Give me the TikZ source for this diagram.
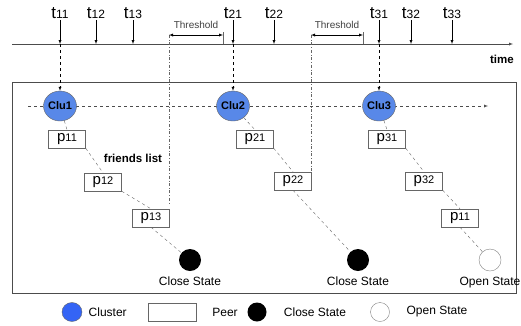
\documentclass[tikz,border=0pt]{standalone}
\usepackage{fontspec}
\setmainfont{Liberation Sans}
\usetikzlibrary{arrows,positioning,shapes}

\definecolor{clublue}{RGB}{88,136,232}
\definecolor{legblue}{RGB}{52,100,245}
\newcommand{\tlab}[1]{{\fontsize{17}{17}\selectfont t}{\fontsize{12}{12}\selectfont #1}}
\newcommand{\plab}[1]{{\fontsize{15}{15}\selectfont p}{\fontsize{11}{11}\selectfont #1}}

\begin{document}
\begin{tikzpicture}[x=1pt,y=-1pt,>=latex,
	cluster/.style={ellipse,draw=black!60,fill=clublue,minimum width=33pt,minimum height=30pt,inner xsep=-6pt,inner ysep=0pt,font=\bfseries\fontsize{11}{11}\selectfont},
	peer/.style={rectangle,draw=black!60,fill=white,minimum width=37pt,minimum height=18pt,inner sep=0pt},
	closed/.style={circle,fill=black,minimum size=22pt,inner sep=0pt},
	opened/.style={circle,draw=black!50,fill=white,minimum size=22pt,inner sep=0pt},
	link/.style={dashed,black!60},
	limit/.style={dash dot,black!60},
	lbl/.style={font=\fontsize{12}{12}\selectfont},
	blbl/.style={font=\bfseries\fontsize{11.5}{11.5}\selectfont}]
	\useasboundingbox (0,0) rectangle (521,325);
	% time axis
	\coordinate (a0) at (12,44);
	\coordinate (a1) at (513,44);
	\draw[black!70,->] (a0) -- (a1);
	\node[blbl,anchor=north east,inner sep=0pt] (time) at (514,55) {time};
	\foreach \n/\x in {11/60,12/96,13/133,21/233,22/274,31/379,32/411,33/452} {
		\node[inner sep=1pt] (t\n) at (\x,13) {\tlab{\n}};
		\coordinate (T\n) at (\x,44);
		\draw[->] (t\n) -- (T\n);
	}
	% thresholds
	\foreach \i/\xa/\xb/\yb in {1/169/223/203,2/311/363/172} {
		\coordinate (thl\i) at (\xa,35);
		\coordinate (thb\i) at (\xa,\yb);
		\coordinate (thr\i) at (\xb,32);
		\coordinate (tha\i) at (\xb,44);
		\draw[limit] (thl\i) -- (thb\i);
		\draw[black!60] (thr\i) -- (tha\i);
		\draw[<->] (thl\i) -- (thl\i -| thr\i);
		\node[font=\fontsize{10}{10}\selectfont,text=black!75] (th\i) at ({(\xa+\xb)/2},25) {Threshold};
	}
	% frame
	\draw[black!70] (12,82) rectangle (516,293);
	\coordinate (h0) at (28,106);
	\coordinate (h1) at (488,106);
	\draw[->,dashed,black!70] (h0) -- (h1);
	% clusters
	\node[cluster] (clu1) at (60,106) {Clu1};
	\node[cluster] (clu2) at (233,106) {Clu2};
	\node[cluster] (clu3) at (379,106) {Clu3};
	\draw[->,dashed] (T11) -- (clu1);
	\draw[->,dashed] (T21) -- (clu2);
	\draw[->,dashed] (T31) -- (clu3);
	% peers
	\node[peer] (p11) at (67,139) {\plab{11}};
	\node[peer] (p12) at (103,182) {\plab{12}};
	\node[peer] (p13) at (151,218) {\plab{13}};
	\node[closed] (c1) at (190,260) {};
	\node[peer] (p21) at (255,139) {\plab{21}};
	\node[peer] (p22) at (293,181) {\plab{22}};
	\node[closed] (c2) at (358,260) {};
	\node[peer] (p31) at (387,139) {\plab{31}};
	\node[peer] (p32) at (424,181) {\plab{32}};
	\node[peer] (p33) at (460,218) {\plab{11}};
	\node[opened] (o3) at (490,260) {};
	\draw[link] (clu1) -- (p11.north) (p11.south east) -- (p12.north) (p12.south east) -- (p13.north) (p13.south) -- (c1);
	\draw[link] (clu2) -- (p21.north) (p21.south east) -- (p22.north) (p22.south) -- (c2);
	\draw[link] (clu3) -- (p31.north) (p31.south east) -- (p32.north) (p32.south east) -- (p33.north) (p33.south) -- (o3);
	\node[blbl] (fl) at (133,158) {friends list};
	\node[lbl,below=2pt of c1] (c1l) {Close State};
	\node[lbl,below=2pt of c2] (c2l) {Close State};
	\node[lbl,below=2pt of o3] (o3l) {Open State};
	% legend
	\node[ellipse,draw=black!60,fill=legblue,minimum width=20pt,minimum height=19pt,inner sep=0pt] (lc) at (72,312) {};
	\node[lbl,right=3pt of lc] (lct) {Cluster};
	\node[rectangle,draw=black!60,minimum width=48pt,minimum height=18pt,inner sep=0pt] (lp) at (172,312) {};
	\node[lbl] (lpt) at (225,312) {Peer};
	\node[closed,minimum size=19pt] (ls) at (257,312) {};
	\node[lbl] (lst) at (315,312) {Close State};
	\node[opened,minimum size=19pt] (lo) at (380,312) {};
	\node[lbl] (lot) at (437,312) {Open State};
\end{tikzpicture}
\end{document}
